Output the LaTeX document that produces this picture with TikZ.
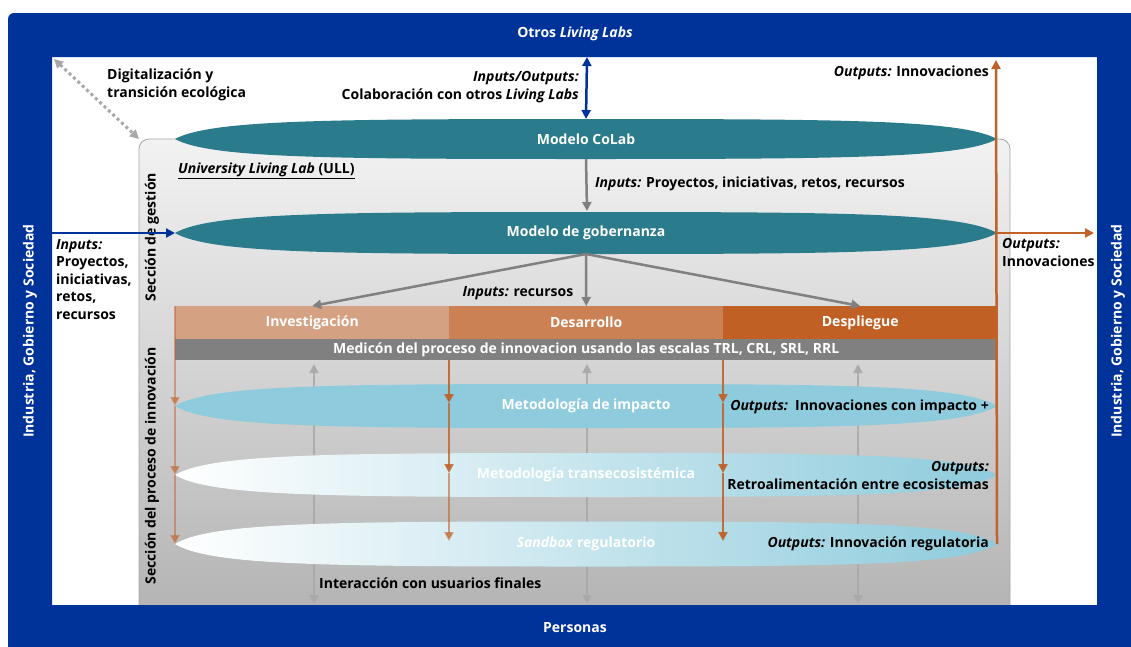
\documentclass[tikz,border=0pt]{standalone}
\usepackage{fontspec}
\setmainfont{Open Sans}
\usetikzlibrary{arrows.meta,calc}

\definecolor{frameblue}{HTML}{003399}
\definecolor{lensteal}{HTML}{2A7B8C}
\definecolor{lensblue}{HTML}{8ECBDC}
\definecolor{phaseA}{HTML}{D4A283}
\definecolor{phaseB}{HTML}{CB8153}
\definecolor{phaseC}{HTML}{C06024}
\definecolor{outorange}{HTML}{C0622A}
\definecolor{midgrey}{HTML}{808080}
\definecolor{lightgrey}{HTML}{A8A8A8}
\definecolor{panelTop}{HTML}{F2F2F2}
\definecolor{panelMid}{HTML}{E2E2E2}
\definecolor{panelBot}{HTML}{B2B2B2}

% lens-shaped band: #1 draw options, #2 name, #3 centre row, #4 half height
\newcommand{\lensband}[4]{%
  \path[#1] (175,#3)
    .. controls (210,#3-0.95*#4) and (325,#3-#4) .. (586,#3-#4)
    .. controls (847,#3-#4) and (962,#3-0.95*#4) .. (997,#3)
    .. controls (962,#3+0.95*#4) and (847,#3+#4) .. (586,#3+#4)
    .. controls (325,#3+#4) and (210,#3+0.95*#4) .. (175,#3) -- cycle;
  \coordinate (#2-l) at (175,#3);
  \coordinate (#2-r) at (997,#3);
  \coordinate (#2-t) at (586,#3-#4);
  \coordinate (#2-b) at (586,#3+#4);
  \coordinate (#2-c) at (586,#3);
}

\tikzset{
  wtxt/.style={text=white, inner sep=0pt},
  btxt/.style={text=black, inner sep=0pt},
  phasebox/.style={text=white, minimum height=33pt, minimum width=274pt,
    inner sep=0pt, anchor=north west},
  tip/.style={-{Triangle[length=9pt,width=9pt]}},
  tips/.style={{Triangle[length=9pt,width=9pt]}-{Triangle[length=9pt,width=9pt]}},
  greyarrow/.style={tip, draw=midgrey, line width=2.5pt},
  userarrow/.style={tips, draw=lightgrey, line width=2.5pt, opacity=0.85},
  bluearrow/.style={draw=frameblue, line width=2.5pt},
  orangearrow/.style={tip, draw=outorange, line width=2.5pt},
  fadearrow/.style={tip, draw=outorange, line width=2.5pt, opacity=#1},
}

\begin{document}
\begin{tikzpicture}[x=1pt,y=-1pt,font=\fontsize{14}{18}\selectfont\bfseries]
\useasboundingbox (0,0) rectangle (1131,646);

% white field
\fill[white] (0,0) rectangle (1131,646);

% grey ULL panel with vertical gradient
\shade[top color=panelTop, middle color=panelMid, bottom color=panelBot,
  draw=lightgrey, line width=0.8pt, rounded corners=10pt]
  (139,139) rectangle (1010,625);
\coordinate (panel-nw) at (139,139);

% blue outer frame
\fill[frameblue, even odd rule, rounded corners=6pt]
  (8,13) rectangle (1140,660) {[sharp corners] (52,57) rectangle (1097,605)};
\coordinate (frame-top) at (587,57);
\coordinate (frame-nw) at (54,59);
\coordinate (frame-l) at (52,233);

% frame labels
\node[wtxt] (otros) at (575,34) {Otros \textit{Living Labs}};
\node[wtxt] (personas) at (575,628) {Personas};
\node[wtxt, rotate=90] (igs-left) at (30,331) {Industria, Gobierno y Sociedad};
\node[wtxt, rotate=90] (igs-right) at (1118,331) {Industria, Gobierno y Sociedad};

% digitalisation link
\node[btxt, anchor=north west, align=left] (digit) at (107,69)
  {Digitalización y\\transición ecológica};
\draw[tips, draw=lightgrey, line width=3pt, dash pattern=on 3pt off 3pt]
  (frame-nw) -- (panel-nw);

% section labels
\node[btxt, rotate=90] (sec-gest) at (152,237) {Sección de gestión};
\node[btxt, rotate=90] (sec-innov) at (152,466) {Sección del proceso de innovación};
\node[btxt, anchor=west] (ull) at (178,171)
  {\underline{\textit{University Living Lab} (ULL)}};

% user interaction arrows (behind the methodology bands)
\coordinate (u1-t) at (314,364); \coordinate (u1-b) at (314,604);
\coordinate (u2-t) at (587,364); \coordinate (u2-b) at (587,604);
\coordinate (u3-t) at (858,364); \coordinate (u3-b) at (858,604);
\draw[userarrow] (u1-t) -- (u1-b);
\draw[userarrow] (u2-t) -- (u2-b);
\draw[userarrow] (u3-t) -- (u3-b);
\node[btxt, anchor=west] (users) at (319,583) {Interacción con usuarios finales};

% management bands
\lensband{fill=lensteal}{colab}{139}{20}
\lensband{fill=lensteal}{gob}{233}{21}
\node[wtxt] (colab) at (colab-c) {Modelo CoLab};
\node[wtxt] (gob) at (gob-c) {Modelo de gobernanza};

% collaboration with other labs
\draw[bluearrow, tips] (frame-top) -- (colab-t);
\node[btxt, anchor=east, align=right] (collab) at (579,87)
  {\textit{Inputs/Outputs:}\\Colaboración con otros \textit{Living Labs}};

% CoLab -> governance
\coordinate (gob-in) at (587,211);
\draw[greyarrow] (colab-b) -- (gob-in);
\node[btxt, anchor=west] (in-colab) at (595,184)
  {\textit{Inputs:} Proyectos, iniciativas, retos, recursos};

% external inputs
\draw[bluearrow, tip] (frame-l) -- (gob-l);
\node[btxt, anchor=north west, align=left, font=\fontsize{14}{17.5}\selectfont\bfseries]
  (in-ext) at (56,239)
  {\textit{Inputs:}\\Proyectos,\\iniciativas,\\retos,\\recursos};

% innovation phases
\node[phasebox, fill=phaseA] (inv) at (175,306) {Investigación};
\node[phasebox, fill=phaseB] (des) at (449,306) {Desarrollo};
\node[phasebox, fill=phaseC] (dep) at (723,306) {Despliegue};
\node[text=white, fill=midgrey, anchor=north west, minimum width=822pt,
  minimum height=21pt, inner sep=0pt] (trl) at (175,339)
  {Medicón del proceso de innovacion usando las escalas TRL, CRL, SRL, RRL};

% governance -> phases
\draw[greyarrow] (gob-b) -- (inv.north);
\draw[greyarrow] (gob-b) -- (des.north);
\draw[greyarrow] (gob-b) -- (dep.north);
\node[btxt] (in-rec) at (518,293) {\textit{Inputs:} recursos};

% methodology bands
\lensband{fill=lensblue}{imp}{406}{22}
\lensband{left color=white, right color=lensblue}{tra}{475}{22}
\lensband{left color=white, right color=lensblue}{san}{544}{22.5}
\node[wtxt] (imp) at (imp-c) {Metodología de impacto};
\node[wtxt] (tra) at (tra-c) {Metodología transecosistémica};
\node[wtxt] (san) at (san-c) {\textit{Sandbox} regulatorio};
\node[btxt, anchor=east] (out-imp) at (989,407)
  {\textit{Outputs:}\ \ Innovaciones con impacto +};
\node[btxt, anchor=east, align=right] (out-tra) at (989,475)
  {\textit{Outputs:}\\Retroalimentación entre ecosistemas};
\node[btxt, anchor=east] (out-san) at (989,544)
  {\textit{Outputs:} Innovación regulatoria};

% phase flows down through the methodologies
\draw[fadearrow=0.5] (inv.north west) -- (imp-l);
\draw[fadearrow=0.5] (imp-l) -- (tra-l);
\draw[fadearrow=0.5] (tra-l) -- (san-l);
\coordinate (b1-0) at (449,360); \coordinate (b1-1) at (449,403);
\coordinate (b1-2) at (449,473); \coordinate (b1-3) at (449,541);
\coordinate (b2-0) at (723,360); \coordinate (b2-1) at (723,403);
\coordinate (b2-2) at (723,473); \coordinate (b2-3) at (723,541);
\draw[fadearrow=0.9] (b1-0) -- (b1-1);
\draw[fadearrow=0.8] (b1-1) -- (b1-2);
\draw[fadearrow=0.6] (b1-2) -- (b1-3);
\draw[fadearrow=0.9] (b2-0) -- (b2-1);
\draw[fadearrow=0.9] (b2-1) -- (b2-2);
\draw[fadearrow=0.9] (b2-2) -- (b2-3);

% innovation outputs
\coordinate (out-top) at (996,60);
\coordinate (out-right) at (1094,233);
\draw[orangearrow] (san-r) -- (out-top);
\draw[orangearrow] (gob-r) -- (out-right);
\node[btxt, anchor=east] (out-main) at (989,73) {\textit{Outputs:} Innovaciones};
\node[btxt, anchor=north west, align=left] (out-ext) at (1002,238)
  {\textit{Outputs:}\\Innovaciones};
\end{tikzpicture}
\end{document}
